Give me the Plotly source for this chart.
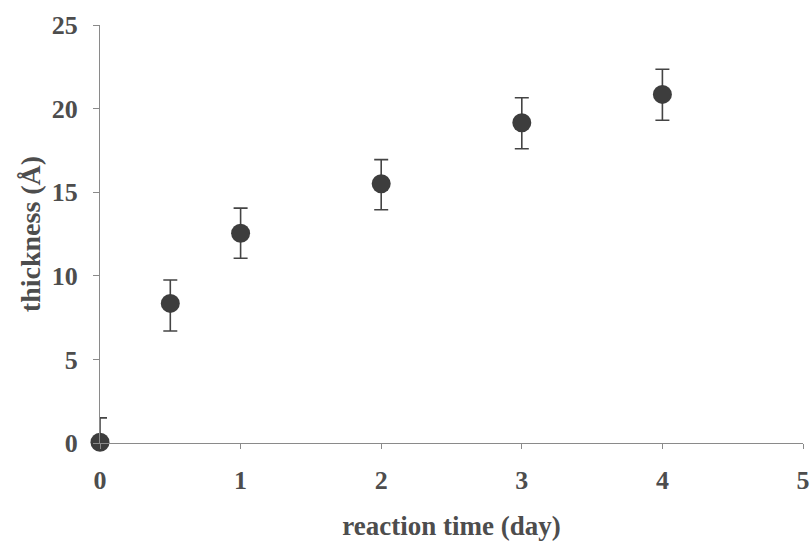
import plotly.graph_objects as go

reaction_time = [0, 0.5, 1, 2, 3, 4]
thickness = [0.05, 8.35, 12.55, 15.5, 19.15, 20.85]
err_plus = [1.45, 1.4, 1.5, 1.45, 1.5, 1.5]
err_minus = [0, 1.65, 1.5, 1.55, 1.55, 1.55]

x_ticks = [0, 1, 2, 3, 4, 5]
y_ticks = [0, 5, 10, 15, 20, 25]

font_fam = "Liberation Serif"
txt_col = "#4d4d4d"
ax_col = "#8a8a8a"

fig = go.Figure()
fig.add_trace(go.Scatter(
    x=reaction_time, y=thickness, mode="markers",
    marker=dict(size=19, color="#3d3d3d"),
    error_y=dict(type="data", symmetric=False, array=err_plus, arrayminus=err_minus,
                 color="#444444", thickness=1.6, width=7),
    cliponaxis=False, showlegend=False,
))

fig.update_layout(
    width=812, height=545,
    margin=dict(l=100, r=9, t=25, b=102),
    paper_bgcolor="white", plot_bgcolor="white",
    font=dict(family=font_fam, color=txt_col, size=26),
)
fig.update_xaxes(
    range=[0, 5], tickvals=x_ticks, ticktext=[str(v) for v in x_ticks],
    showgrid=False, zeroline=False, showline=True, linecolor=ax_col, linewidth=1,
    ticks="outside", ticklen=5, tickcolor=ax_col, ticklabelstandoff=9,
    automargin=False,
    tickfont=dict(family=font_fam, size=26, color=txt_col, weight="bold"),
    title=dict(text="<b>reaction time (day)</b>", font=dict(family=font_fam, size=27, color=txt_col), standoff=21),
)
fig.update_yaxes(
    range=[0, 25], tickvals=y_ticks, ticktext=[str(v) for v in y_ticks],
    showgrid=False, zeroline=False, showline=True, linecolor=ax_col, linewidth=1,
    ticks="outside", ticklen=6, tickcolor=ax_col, ticklabelstandoff=10,
    automargin=False,
    tickfont=dict(family=font_fam, size=26, color=txt_col, weight="bold"),
    title=dict(text="<b>thickness (Å)</b>", font=dict(family=font_fam, size=28, color=txt_col), standoff=2),
)

fig.write_html("out.html")
